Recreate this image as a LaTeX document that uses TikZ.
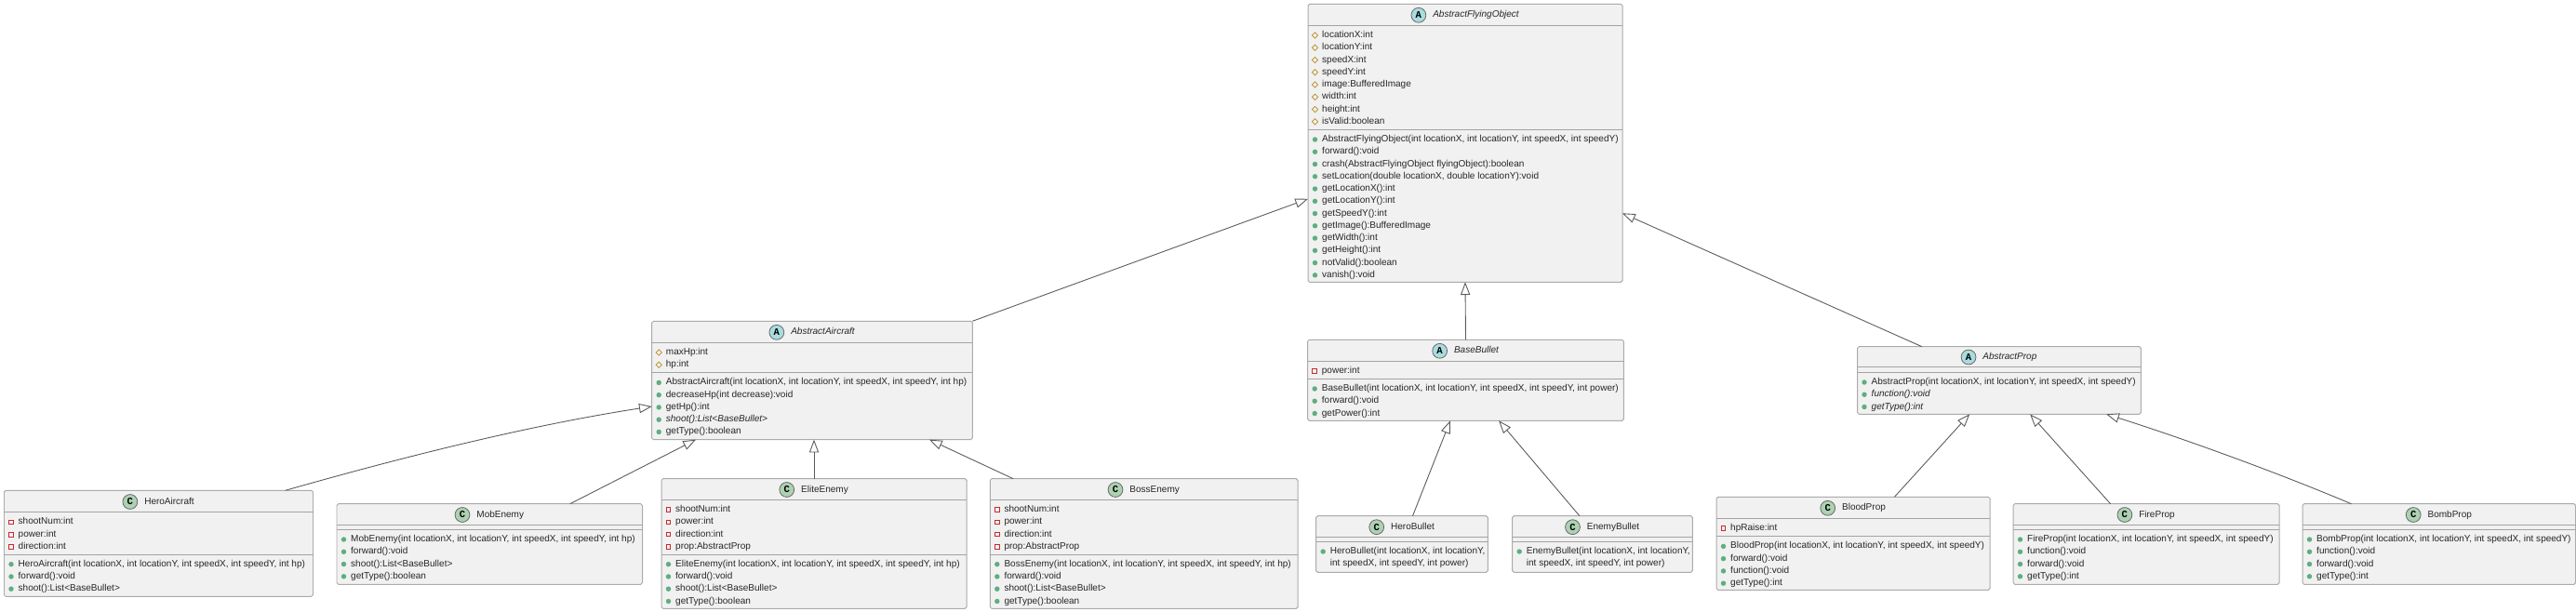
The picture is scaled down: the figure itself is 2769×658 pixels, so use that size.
\documentclass[tikz,border=0pt]{standalone}
\usepackage{fontspec}
\setmainfont{Liberation Sans}
\newfontfamily\letterfont{Liberation Mono}
\usepackage{xcolor}
\usetikzlibrary{shapes.geometric}
\usetikzlibrary{arrows.meta}
\usetikzlibrary{calc}
\definecolor{boxfill}{HTML}{F1F1F1}
\definecolor{boxline}{HTML}{ABABAB}
\definecolor{sepline}{HTML}{A3A3A3}
\definecolor{arrowline}{HTML}{5A5A5A}
\definecolor{circA}{HTML}{A9DCDF}
\definecolor{circC}{HTML}{ADD1B2}
\definecolor{markpro}{HTML}{B38D22}
\definecolor{markpri}{HTML}{C82930}
\definecolor{markpubfill}{HTML}{5FAE80}
\newcommand{\umlsize}{\fontsize{2.85pt}{3.3pt}\selectfont}
\def\nomark{non}

\begin{document}
\begin{tikzpicture}[x=0.01cm, y=-0.01cm]

                \tikzstyle{classbox} = [rectangle, draw=boxline, fill=boxfill, line width=0.28pt, rounded corners=0.5pt, inner sep=0pt, outer sep=0pt]
                \tikzstyle{rowtext}  = [anchor=west, inner sep=0pt, text height=2pt, text depth=0.55pt, text=black!85, font=\umlsize]
                \tikzstyle{rowpro}   = [rowtext]
                \tikzstyle{rowpri}   = [rowtext]
                \tikzstyle{rowpub}   = [rowtext]
                \tikzstyle{rownon}   = [rowtext]
                \tikzstyle{rowabs}   = [rowtext, font=\umlsize\itshape]
                \tikzstyle{markpro}  = [diamond, draw=markpro, line width=0.2pt, minimum size=1.9pt, inner sep=0pt]
                \tikzstyle{markpri}  = [rectangle, draw=markpri, line width=0.25pt, minimum size=1.3pt, inner sep=0pt]
                \tikzstyle{markpub}  = [circle, fill=markpubfill, minimum size=1.55pt, inner sep=0pt]
                \tikzstyle{markabs}  = [markpub]
                \tikzstyle{titleA}   = [rowtext, anchor=center, font=\umlsize\itshape]
                \tikzstyle{titleC}   = [rowtext, anchor=center]
                \tikzstyle{badge}    = [circle, draw=black!60, line width=0.22pt, minimum size=4.5pt, inner sep=0pt, font=\letterfont\bfseries\fontsize{3pt}{4pt}\selectfont]
                \tikzstyle{extends}  = [draw=arrowline, line width=0.25pt, -{Triangle[open, fill=white, length=3.9pt, width=2.9pt]}]

                % name/badge/left/right/top/title line/attribute line/bottom/attributes/methods
                \foreach \name/\letter/\xa/\xb/\ya/\yb/\yc/\yd/\attrs/\meths in {
                  AbstractFlyingObject/A/1406/1744/4.3/27.3/139.3/303.3/{pro/{locationX:int},pro/{locationY:int},pro/{speedX:int},pro/{speedY:int},pro/{image:BufferedImage},pro/{width:int},pro/{height:int},pro/{isValid:boolean}}/{pub/{AbstractFlyingObject(int locationX, int locationY, int speedX, int speedY)},pub/{forward():void},pub/{crash(AbstractFlyingObject flyingObject):boolean},pub/{setLocation(double locationX, double locationY):void},pub/{getLocationX():int},pub/{getLocationY():int},pub/{getSpeedY():int},pub/{getImage():BufferedImage},pub/{getWidth():int},pub/{getHeight():int},pub/{notValid():boolean},pub/{vanish():void}},
                  AbstractAircraft/A/700.7/1045.3/345.3/368.3/400.7/472.7/{pro/{maxHp:int},pro/{hp:int}}/{pub/{AbstractAircraft(int locationX, int locationY, int speedX, int speedY, int hp)},pub/{decreaseHp(int decrease):void},pub/{getHp():int},abs/{shoot():List<BaseBullet>},pub/{getType():boolean}},
                  BaseBullet/A/1405.7/1745.3/365.3/388.3/407.3/452.3/{pri/{power:int}}/{pub/{BaseBullet(int locationX, int locationY, int speedX, int speedY, int power)},pub/{forward():void},pub/{getPower():int}},
                  AbstractProp/A/1996.5/2301.3/372.7/394.3/400.3/445.3/{}/{pub/{AbstractProp(int locationX, int locationY, int speedX, int speedY)},abs/{function():void},abs/{getType():int}},
                  HeroAircraft/C/4.5/336.5/527.3/550.7/596/641.3/{pri/{shootNum:int},pri/{power:int},pri/{direction:int}}/{pub/{HeroAircraft(int locationX, int locationY, int speedX, int speedY, int hp)},pub/{forward():void},pub/{shoot():List<BaseBullet>}},
                  MobEnemy/C/362/690.5/541.7/564.3/569.3/628.3/{}/{pub/{MobEnemy(int locationX, int locationY, int speedX, int speedY, int hp)},pub/{forward():void},pub/{shoot():List<BaseBullet>},pub/{getType():boolean}},
                  EliteEnemy/C/711/1039/514.7/537.3/596/654.3/{pri/{shootNum:int},pri/{power:int},pri/{direction:int},pri/{prop:AbstractProp}}/{pub/{EliteEnemy(int locationX, int locationY, int speedX, int speedY, int hp)},pub/{forward():void},pub/{shoot():List<BaseBullet>},pub/{getType():boolean}},
                  BossEnemy/C/1064.3/1395/514.7/537.3/596/654.3/{pri/{shootNum:int},pri/{power:int},pri/{direction:int},pri/{prop:AbstractProp}}/{pub/{BossEnemy(int locationX, int locationY, int speedX, int speedY, int hp)},pub/{forward():void},pub/{shoot():List<BaseBullet>},pub/{getType():boolean}},
                  HeroBullet/C/1414.7/1599.3/554.7/577.7/582.3/615.3/{}/{pub/{HeroBullet(int locationX, int locationY,},non/{int speedX, int speedY, int power)}},
                  EnemyBullet/C/1625.7/1819.3/554.7/577.7/582.3/615.3/{}/{pub/{EnemyBullet(int locationX, int locationY,},non/{int speedX, int speedY, int power)}},
                  BloodProp/C/1845/2139/534.3/557.3/576.7/634.3/{pri/{hpRaise:int}}/{pub/{BloodProp(int locationX, int locationY, int speedX, int speedY)},pub/{forward():void},pub/{function():void},pub/{getType():int}},
                  FireProp/C/2164/2450/541.7/564.3/569.3/628.3/{}/{pub/{FireProp(int locationX, int locationY, int speedX, int speedY)},pub/{function():void},pub/{forward():void},pub/{getType():int}},
                  BombProp/C/2475/2768.5/541.7/564.3/569.3/628.3/{}/{pub/{BombProp(int locationX, int locationY, int speedX, int speedY)},pub/{function():void},pub/{forward():void},pub/{getType():int}}%
                }
                {
                        \node [classbox, minimum width={(\xb-\xa)*0.01cm}, minimum height={(\yd-\ya)*0.01cm}](\name) at ({(\xa+\xb)/2}, {(\ya+\yd)/2}) {};
                        \draw [sepline, line width=0.28pt] (\xa, \yb) -- (\xb, \yb);
                        \draw [sepline, line width=0.28pt] (\xa, \yc) -- (\xb, \yc);

                        \node [title\letter](\name-title) at ({(\xa+\xb)/2+11.5}, {(\ya+\yb)/2+0.5}) {\name};
                        \node [badge, fill=circ\letter](\name-badge) at ($(\name-title.west)+(-14.7,0)$) {\letter};

                        \if\relax\detokenize\expandafter{\attrs}\relax\else
                        \foreach \kind/\txt [count=\row] in \attrs
                        {
                                \node [mark\kind](\name-am\row) at ({\xa+7.5}, {\yb+10.7+(\row-1)*13.26}) {};
                                \node [row\kind](\name-a\row) at ({\xa+14.5}, {\yb+10.7+(\row-1)*13.26}) {\txt};
                        }
                        \fi

                        \foreach \kind/\txt [count=\row] in \meths
                        {
                                \ifx\kind\nomark
                                \else
                                        \node [mark\kind](\name-mm\row) at ({\xa+7.5}, {\yc+10.7+(\row-1)*13.26}) {};
                                \fi
                                \node [row\kind](\name-m\row) at ({\xa+14.5}, {\yc+10.7+(\row-1)*13.26}) {\txt};
                        }
                }

                % the arrows end where the reference has them, measured from the anchors
                \draw [extends] (BaseBullet.north) -- (AbstractFlyingObject.south);
                \draw [extends] (AbstractAircraft.north east) -- ($(AbstractFlyingObject.west)+(0,60)$);
                \draw [extends] ($(AbstractProp.north)+(-83,0)$) -- ($(AbstractFlyingObject.east)+(0,75.5)$);

                \draw [extends] ($(HeroAircraft.north)+(136.2,0)$) .. controls +(130,-37) and +(-130,20) .. ($(AbstractAircraft.west)+(0,28)$);
                \draw [extends] ($(MobEnemy.north)+(86.5,0)$) -- ($(AbstractAircraft.south)+(-125,0)$);
                \draw [extends] (EliteEnemy.north) -- (EliteEnemy.north |- AbstractAircraft.south);
                \draw [extends] ($(BossEnemy.north)+(-140.5,0)$) -- ($(AbstractAircraft.south)+(126,0)$);

                \draw [extends] ($(HeroBullet.north)+(11.5,0)$) -- ($(BaseBullet.south)+(-16.6,0)$);
                \draw [extends] ($(EnemyBullet.north)+(-24.6,0)$) -- ($(BaseBullet.south)+(35.6,0)$);

                \draw [extends] ($(BloodProp.north)+(44.4,0)$) -- ($(AbstractProp.south)+(-31.7,0)$);
                \draw [extends] ($(FireProp.north)+(-38.4,0)$) -- ($(AbstractProp.south)+(33.2,0)$);
                \draw [extends] ($(BombProp.north)+(-94.3,0)$) .. controls +(-90,-38) and +(70,22) .. ($(AbstractProp.south)+(115.2,0)$);

                \useasboundingbox (0,0) rectangle (2769,658);
\end{tikzpicture}
\end{document}
